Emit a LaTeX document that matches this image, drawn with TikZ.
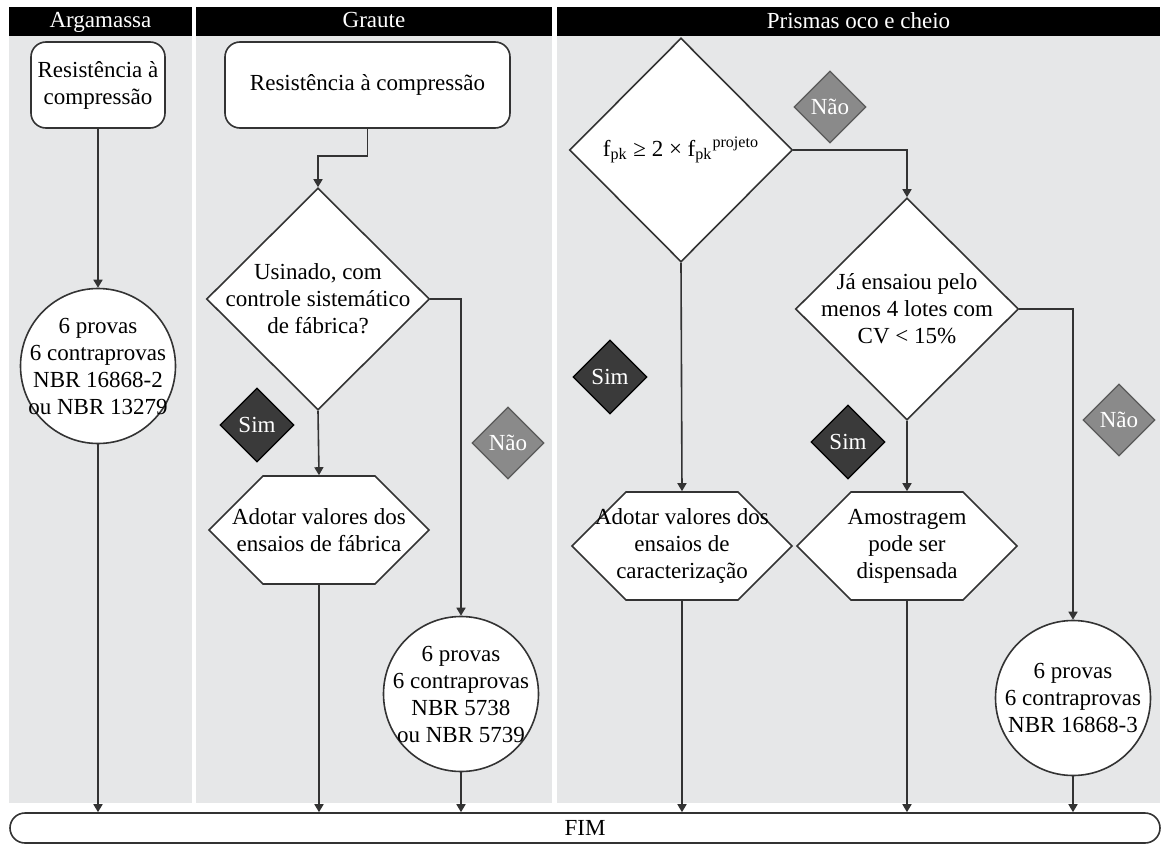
\documentclass[tikz,border=0pt]{standalone}
\usepackage{fontspec}
\setmainfont{Liberation Serif}
\usetikzlibrary{shapes.geometric,shapes.symbols,arrows.meta}
\definecolor{lanegray}{HTML}{E6E7E8}
\definecolor{linec}{HTML}{333333}
\definecolor{simfill}{HTML}{3A3A3A}
\definecolor{naofill}{HTML}{8A8A8A}

\begin{document}
\begin{tikzpicture}[x=0.5pt, y=-0.5pt, font=\fontsize{11.5}{13.5}\selectfont,
	head/.style={rectangle, fill=black, text=white, minimum height=14.5pt, inner sep=0pt, text depth=0.25ex},
	box/.style={rectangle, rounded corners=7.5pt, draw=linec, fill=white, line width=0.8pt, align=center, minimum height=43pt},
	dec/.style={diamond, draw=linec, fill=white, line width=0.8pt, minimum width=111.5pt, minimum height=111pt, inner sep=0pt},
	hexa/.style={signal, signal to=east and west, signal pointer angle=90, draw=linec, fill=white, line width=0.8pt, minimum width=110pt, minimum height=54pt, inner sep=0pt},
	endc/.style={circle, draw=linec, fill=white, line width=0.8pt, minimum size=77.5pt, inner sep=0pt},
	txt/.style={align=center, inner sep=0pt},
	sim/.style={diamond, draw=black, fill=simfill, text=white, line width=0.6pt, minimum size=37pt, inner sep=0pt},
	nao/.style={diamond, draw=black!65, fill=naofill, text=white, line width=0.6pt, minimum size=36pt, inner sep=0pt},
	arr/.style={-{Triangle[length=4pt,width=4.5pt]}, draw=linec, line width=0.8pt}]
	\useasboundingbox (0,0) rectangle (1163,846);

	% lanes
	\fill[lanegray] (9,36) rectangle (192,803);
	\fill[lanegray] (196,36) rectangle (552,803);
	\fill[lanegray] (557,36) rectangle (1160,803);
	\node[head, minimum width=91.5pt](hA) at (100.5,21.5){Argamassa};
	\node[head, minimum width=178pt](hB) at (374,21.5){Graute};
	\node[head, minimum width=301.5pt](hC) at (858.5,21.5){Prismas oco e cheio};

	% Argamassa
	\node[box, minimum width=66pt](ra) at (98,85){Resistência à\\compressão};
	\node[endc, label={[txt]center:{6 provas\\6 contraprovas\\NBR 16868-2\\ou NBR 13279}}](c1) at (98,366){};

	% Graute
	\node[box, minimum width=142.5pt](gb) at (367.5,85){Resistência à compressão};
	\node[dec, label={[txt]center:{Usinado, com\\controle sistemático\\de fábrica?}}](d1) at (318,299){};
	\node[hexa, label={[txt]center:{Adotar valores dos\\ensaios de fábrica}}](h1) at (319,530){};
	\node[endc, label={[txt]center:{6 provas\\6 contraprovas\\NBR 5738\\ou NBR 5739}}](c2) at (461,694){};
	\node[sim](s1) at (257,425){Sim};
	\node[nao](n1) at (508,443){Não};

	% Prismas
	\node[dec, minimum height=112pt, label={[txt]center:{f\textsubscript{pk} ≥ 2 × f\textsubscript{pk}\textsuperscript{projeto}}}](d3) at (681,150){};
	\node[dec, label={[txt]center:{Já ensaiou pelo\\menos 4 lotes com\\CV < 15\%}}](d4) at (907,309){};
	\node[hexa, label={[txt]center:{Adotar valores dos\\ensaios de\\caracterização}}](h2) at (682,546){};
	\node[hexa, label={[txt]center:{Amostragem\\pode ser\\dispensada}}](h3) at (907,546){};
	\node[endc, label={[txt]center:{6 provas\\6 contraprovas\\NBR 16868-3}}](c3) at (1073,698){};
	\node[sim](s2) at (610,377){Sim};
	\node[sim](s3) at (848,442){Sim};
	\node[nao](n2) at (830,107){Não};
	\node[nao](n3) at (1119,420){Não};

	\node[rectangle, rounded corners=7.5pt, draw=linec, fill=white, line width=0.8pt, minimum width=575pt, minimum height=15pt](fim) at (585,828){FIM};

	% connectors
	\draw[arr] (ra.south) -- (c1.north);
	\draw[arr] (gb.south) -- ++(0,27) -| (d1.north);
	\draw[arr] (d1.south) -- (h1.north);
	\draw[arr] (d1.east) -| (c2.north);
	\draw[arr] (d3.south) -- (h2.north);
	\draw[arr] (d3.east) -| (d4.north);
	\draw[arr] (d4.south) -- (h3.north);
	\draw[arr] (d4.east) -| (c3.north);
	\foreach \n in {c1,h1,c2,h2,h3,c3}
		\draw[arr] (\n.south) -- (\n.south |- fim.north);
\end{tikzpicture}
\end{document}
